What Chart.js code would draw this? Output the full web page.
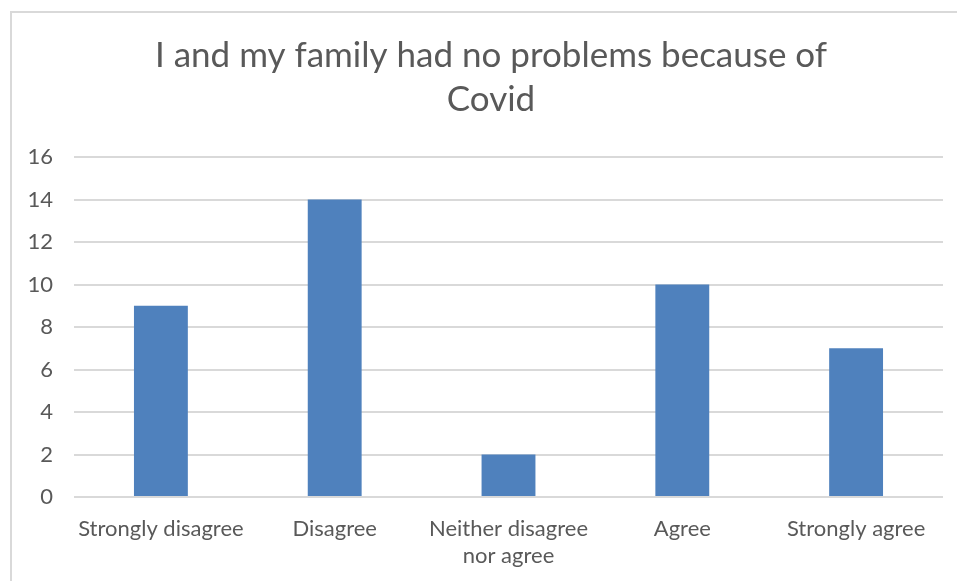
<!DOCTYPE html>
<html>
<head>
<meta charset="utf-8">
<script src="https://cdn.jsdelivr.net/npm/chart.js@4/dist/chart.umd.min.js"></script>
<style>
  html, body { margin: 0; padding: 0; background: #fff; }
  #wrap { position: relative; width: 957px; height: 581px; overflow: hidden; }
  #frame { position: absolute; left: 10px; top: 11px; width: 960px; height: 600px;
           border-top: 2px solid #d9d9d9; border-left: 2px solid #d9d9d9; box-sizing: border-box; }
  #chart { position: absolute; left: 0; top: 0; }
</style>
</head>
<body>
<div id="wrap">
  <div id="frame"></div>
  <canvas id="chart" width="957" height="581"></canvas>
</div>
<script>
// survey answers
const categories = ['Strongly disagree', 'Disagree', ['Neither disagree', 'nor agree'], 'Agree', 'Strongly agree'];
const counts = [9, 14, 2, 10, 7];
const titleLines = ['I and my family had no problems because of', 'Covid'];

const textColor = '#595959';
const gridColor = '#d9d9d9';
const barColor = '#4f81bd';

// two-line heading, centred on the frame rather than the plot
const headingPlugin = {
  id: 'heading',
  afterDraw(chart) {
    const c = chart.ctx;
    c.save();
    c.font = '35px Lato';
    c.fillStyle = textColor;
    c.textAlign = 'center';
    c.textBaseline = 'middle';
    titleLines.forEach((line, i) => c.fillText(line, 491, 56 + i * 44));
    c.restore();
  }
};

const ctx = document.getElementById('chart');

new Chart(ctx, {
  type: 'bar',
  data: {
    labels: categories,
    datasets: [{
      data: counts,
      backgroundColor: barColor,
      borderWidth: 0,
      categoryPercentage: 1,
      barPercentage: 0.31
    }]
  },
  options: {
    responsive: false,
    animation: false,
    events: [],
    layout: {
      padding: { left: 14, right: 14, top: 157, bottom: 0 }
    },
    plugins: {
      legend: { display: false },
      tooltip: { enabled: false },
      title: { display: false }
    },
    scales: {
      x: {
        grid: { display: false, drawTicks: false },
        border: { display: false },
        ticks: {
          color: textColor,
          font: { family: 'Lato', size: 22, lineHeight: '27px' },
          padding: 18,
          maxRotation: 0,
          autoSkip: false
        },
        afterFit: scale => { scale.height = 84; }
      },
      y: {
        min: 0,
        max: 16,
        grid: { color: gridColor, lineWidth: 2, drawTicks: false },
        border: { display: false },
        ticks: {
          stepSize: 2,
          color: textColor,
          font: { family: 'Lato', size: 22 },
          padding: 21
        },
        afterFit: scale => { scale.width = 60; }
      }
    }
  },
  plugins: [headingPlugin]
});
</script>
</body>
</html>
